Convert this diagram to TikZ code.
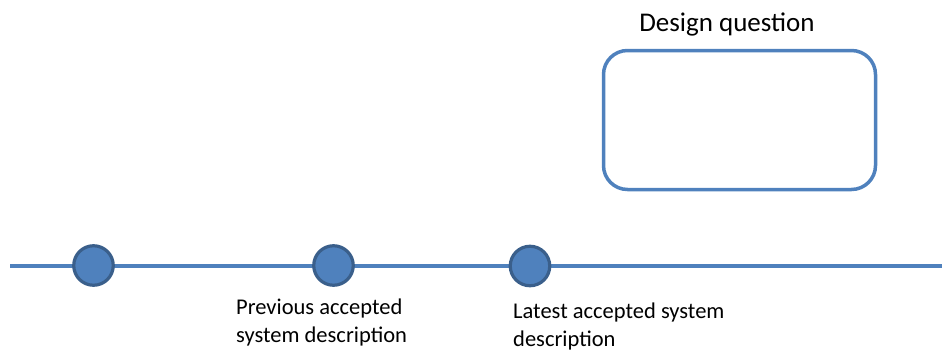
\documentclass[tikz,border=0pt]{standalone}
\usepackage{fontspec}
\setmainfont{Carlito}
\definecolor{officeblue}{HTML}{4F81BD}
\definecolor{officeedge}{HTML}{3A5F8B}
\begin{document}
\begin{tikzpicture}[x=1pt,y=-1pt,
  milestone/.style={circle,draw=officeedge,fill=officeblue,line width=3.2pt,minimum size=39.5pt,inner sep=0pt},
  timeline/.style={draw=officeblue,line width=4pt},
  label/.style={font=\fontsize{22.5}{28}\selectfont,align=left,anchor=north west,inner sep=0pt},
  questionbox/.style={draw=officeblue,line width=3.5pt,rounded corners=24pt,minimum width=272pt,minimum height=139pt,inner sep=0pt}]
  \useasboundingbox (0,0) rectangle (942,351);
  % timeline with its milestones
  \coordinate (start) at (10,266);
  \coordinate (end) at (942,266);
  \draw[timeline] (start) -- (end);
  \node[milestone] (m1) at (93.5,265.5) {};
  \node[milestone] (m2) at (333.5,265.5) {};
  \node[milestone] (m3) at (530,266) {};
  % milestone captions
  \node[label] (prev) at (236,299) {Previous accepted\\system description};
  \node[label] (latest) at (513,303) {Latest accepted system\\description};
  % design question box
  \node[questionbox] (dq) at (739.5,120) {};
  \node[font=\fontsize{27}{32}\selectfont,anchor=base] (dqtitle) at (727,31) {Design question};
\end{tikzpicture}
\end{document}
